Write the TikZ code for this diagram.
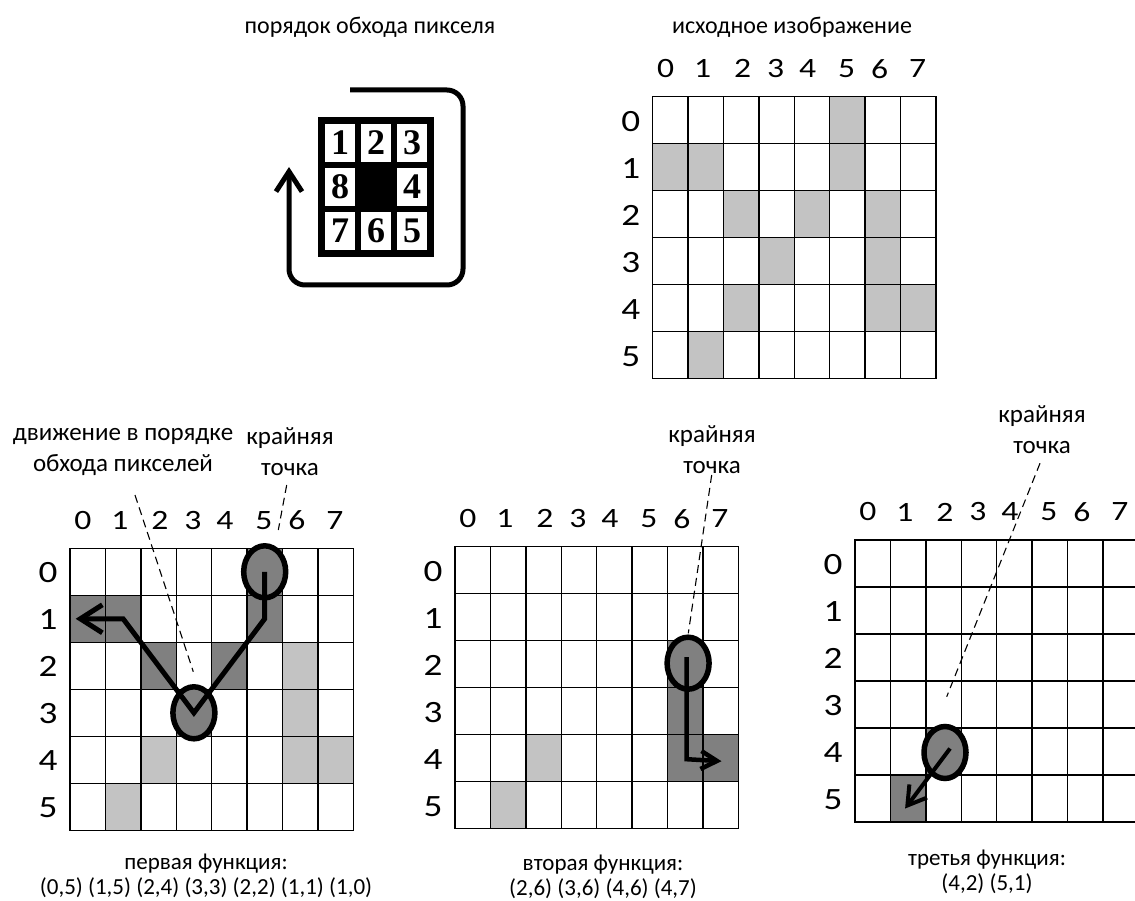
\documentclass[tikz,border=0pt]{standalone}
\usepackage{fontspec}
\setmainfont{Carlito}
\newfontfamily\tnr{Liberation Serif}
\usetikzlibrary{arrows.meta,calc,shapes.geometric}
\definecolor{lgray}{RGB}{195,195,195}
\definecolor{dgray}{RGB}{128,128,128}
\tikzset{
  ttl/.style={font=\fontsize{24}{31}\selectfont, inner sep=0pt, align=center},
  ann/.style={font=\fontsize{25}{31}\selectfont, inner sep=0pt, align=center},
  captxt/.style={font=\fontsize{23}{24.5}\selectfont, inner sep=0pt, align=center},
  clbl/.style={font=\fontsize{28}{30}\selectfont, inner sep=0pt},
  rlbl/.style={font=\fontsize{31}{32}\selectfont, inner sep=0pt},
  gline/.style={line width=1.4pt, line cap=rect},
  lead/.style={line width=1.1pt, dash pattern=on 8pt off 5pt},
  ring/.style={ellipse, draw=black, fill=dgray, line width=5.5pt, minimum width=42pt, minimum height=52pt, inner sep=0pt},
  numcell/.style={fill=white, minimum width=30pt, minimum height=38pt, inner sep=0pt, font=\tnr\bfseries\fontsize{36}{36}\selectfont},
}
\newcommand\wdig[1]{\scalebox{1.2}[1]{#1}}
\newcommand\pixgrid[4]{%
\begin{scope}[shift={(#2,#3)}]
  \foreach \r/\c/\col in {#4} \fill[\col] ({\c*35.4},{\r*47}) rectangle ++(35.4,47);
  \foreach \c in {0,...,8} \draw[gline] ({\c*35.4},0) -- ({\c*35.4},282);
  \foreach \r in {0,...,6} \draw[gline] (0,{\r*47}) -- (283.2,{\r*47});
  \foreach \c/\xo in {0/13,1/50,2/90,3/123,4/155,5/194,6/227,7/265}
    \node[clbl] (#1-c\c) at (\xo,-28) {\wdig{\c}};
  \foreach \r in {0,...,5}
    \node[rlbl] (#1-r\r) at (-22,{(\r+0.5)*47+1}) {\wdig{\r}};
  \foreach \r in {0,...,5} \foreach \c in {0,...,7}
    \coordinate (#1-\r-\c) at ({(\c+0.5)*35.4},{(\r+0.5)*47});
\end{scope}}
\begin{document}
\begin{tikzpicture}[x=1pt,y=-1pt]
\fill[white] (0,0) rectangle (1135,901);
\useasboundingbox (0,0) rectangle (1135,901);

% ---- titles
\node[ttl] (t1) at (370,27) {порядок обхода пикселя};
\node[ttl] (t2) at (792,27) {исходное изображение};

% ---- pixel order block
\fill (318,117) rectangle (434,257);
\foreach \i/\j/\t in {0/0/1,1/0/2,2/0/3,0/1/8,2/1/4,0/2/7,1/2/6,2/2/5}
  \node[numcell] (n\t) at ({340+\i*36},{143+\j*44}) {\t};
\coordinate (loopS) at (350,90);
\coordinate (loopE) at (289,167);
\draw[line width=5pt, rounded corners=16pt, -{Straight Barb[length=20pt,width=26pt]}]
  (loopS) -- (463,90) -- (463,285) -- (289,285) -- (loopE);

% ---- source image
\pixgrid{g0}{652.7}{96.7}{0/5/lgray,1/0/lgray,1/1/lgray,1/5/lgray,2/2/lgray,2/4/lgray,2/6/lgray,3/3/lgray,3/6/lgray,4/2/lgray,4/6/lgray,4/7/lgray,5/1/lgray}

% ---- first function
\pixgrid{g1}{70}{548.3}{0/5/dgray,1/5/dgray,1/0/dgray,1/1/dgray,2/2/dgray,2/4/dgray,3/3/dgray,2/6/lgray,3/6/lgray,4/6/lgray,4/7/lgray,4/2/lgray,5/1/lgray}
\node[ann] (a1) at (123,452) {движение в порядке\\обхода пикселей};
\node[ann] (k1) at (290,452) {крайняя\\точка};
\coordinate (a1s) at (135,495);
\coordinate (a1e) at (193.3,671.7);
\coordinate (k1s) at (286.7,485);
\coordinate (k1e) at (278.3,530);
\draw[lead] (a1s) -- (a1e);
\draw[lead] (k1s) -- (k1e);
\node[ring] (e1a) at (g1-0-5) {};
\node[ring] (e1b) at (g1-3-3) {};
\draw[line width=5pt, -{Straight Barb[length=22pt,width=28pt]}]
  (g1-0-5) -- (g1-1-5) -- (g1-3-3) -- (g1-1-1) -- ($(g1-1-0)+(-12,0)$);
\node[captxt] (f1) at (206,876) {первая функция:\\(0,5) (1,5) (2,4) (3,3) (2,2) (1,1) (1,0)};

% ---- second function
\pixgrid{g2}{455}{546.7}{2/6/dgray,3/6/dgray,4/6/dgray,4/7/dgray,4/2/lgray,5/1/lgray}
\node[ann] (k2) at (712,450) {крайняя\\точка};
\coordinate (k2s) at (711.7,475);
\coordinate (k2e) at (688.3,633.3);
\draw[lead] (k2s) -- (k2e);
\node[ring] (e2) at ($(g2-2-6)+(3,-1)$) {};
\draw[line width=4.5pt, -{Straight Barb[length=16pt,width=18pt]}]
  ($(g2-2-6)+(1.5,-7)$) -- ($(g2-4-6)+(1.5,1)$) -- ($(g2-4-7)+(1,3)$);
\node[captxt] (f2) at (603,877) {вторая функция:\\(2,6) (3,6) (4,6) (4,7)};

% ---- third function
\pixgrid{g3}{855}{540}{4/2/dgray,5/1/dgray}
\node[ann] (k3) at (1042,430) {крайняя\\точка};
\coordinate (k3s) at (1040,463.3);
\coordinate (k3e) at (946.7,696.7);
\draw[lead] (k3s) -- (k3e);
\node[ring] (e3) at ($(g3-4-2)+(1.5,1)$) {};
\draw[line width=4pt, -{Straight Barb[length=18pt,width=22pt]}]
  ($(g3-4-2)+(6.5,-3)$) -- ($(g3-5-1)+(-3,10)$);
\node[captxt] (f3) at (987,872) {третья функция:\\(4,2) (5,1)};
\end{tikzpicture}
\end{document}
